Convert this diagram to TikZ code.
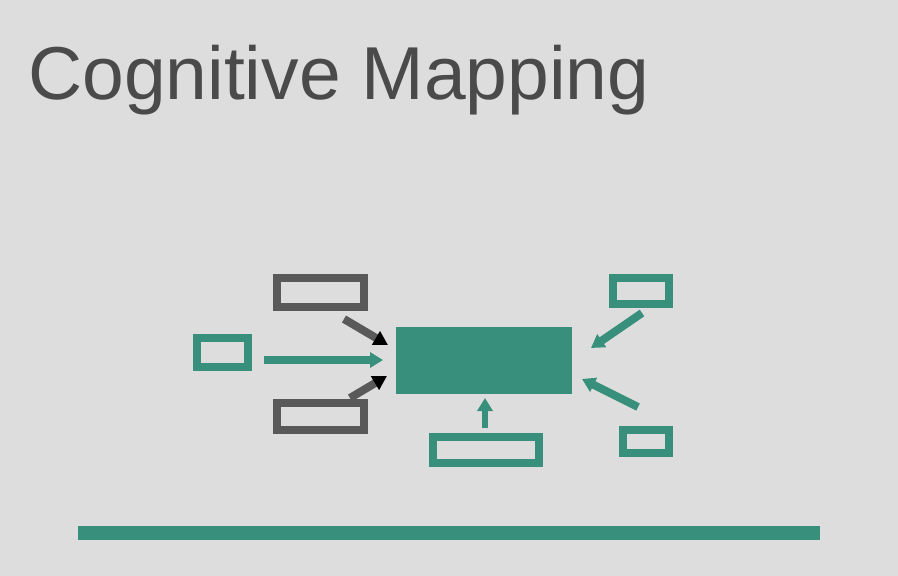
\documentclass[tikz,border=0pt]{standalone}
\usepackage{fontspec}
\setmainfont{Liberation Sans}
\usetikzlibrary{arrows.meta}
\definecolor{bg}{HTML}{DDDDDD}
\definecolor{teal}{HTML}{378F7C}
\definecolor{darkgray}{HTML}{595959}
\definecolor{titlegray}{HTML}{4A4A4A}
\begin{document}
\begin{tikzpicture}[x=1pt,y=-1pt,
  box/.style={draw=#1,line width=8pt,inner sep=0pt,fill=none},
  tealbox/.style={box=teal},
  graybox/.style={box=darkgray},
  tealarrow/.style={draw=teal,line width=8pt,-{Triangle[length=13pt,width=15pt]}},
  grayarrow/.style={draw=darkgray,line width=8pt,-{Triangle[length=14pt,width=15pt,color=black]}}
]
\fill[bg] (0,0) rectangle (898,576);
\useasboundingbox (0,0) rectangle (898,576);
\node[anchor=base west,inner sep=0pt,text=titlegray,font=\fontsize{75}{80}\selectfont] (title) at (28,99) {Cognitive Mapping};

\node[fill=teal,inner sep=0pt,minimum width=176pt,minimum height=67pt] (center) at (484,360.5) {};
\node[graybox,minimum width=87pt,minimum height=29pt] (gtop) at (320.5,292.5) {};
\node[graybox,minimum width=87pt,minimum height=27pt] (gbot) at (320.5,416.5) {};
\node[tealbox,minimum width=51pt,minimum height=29pt] (left) at (222.5,352.5) {};
\node[tealbox,minimum width=106pt,minimum height=26pt] (bottom) at (486,450) {};
\node[tealbox,minimum width=46pt,minimum height=23pt] (rbot) at (646,441.5) {};
\node[tealbox,minimum width=56pt,minimum height=26pt] (rtop) at (641,291) {};

\coordinate (a1s) at (344,319); \coordinate (a1e) at (388,345);
\coordinate (a2s) at (350,398); \coordinate (a2e) at (387,376);
\coordinate (a3s) at (264,360); \coordinate (a3e) at (383,360);
\coordinate (a4s) at (485,428); \coordinate (a4e) at (485,398);
\coordinate (a5s) at (638,407); \coordinate (a5e) at (582,379);
\coordinate (a6s) at (642,313); \coordinate (a6e) at (591,348);

\draw[grayarrow] (a1s) -- (a1e);
\draw[grayarrow] (a2s) -- (a2e);
\draw[tealarrow] (a3s) -- (a3e);
\draw[tealarrow,line width=6pt] (a4s) -- (a4e);
\draw[tealarrow] (a5s) -- (a5e);
\draw[tealarrow] (a6s) -- (a6e);

\node[fill=teal,inner sep=0pt,minimum width=742pt,minimum height=14pt] (bar) at (449,533) {};
\end{tikzpicture}
\end{document}
